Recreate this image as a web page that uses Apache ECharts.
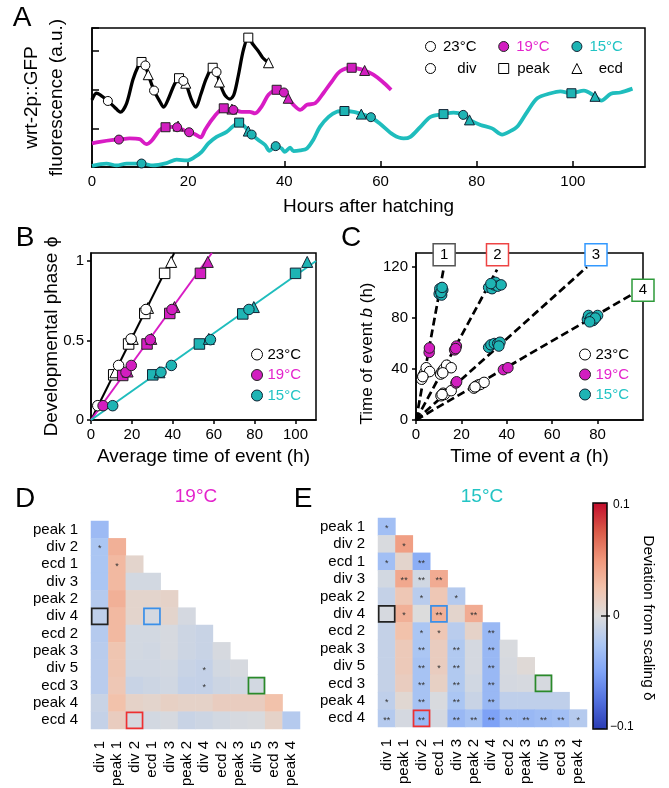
<!DOCTYPE html>
<html><head><meta charset="utf-8">
<script src="https://cdn.jsdelivr.net/npm/echarts/dist/echarts.min.js"></script>
<style>html,body{margin:0;padding:0;background:#fff}#c{width:669px;height:788px}</style>
</head><body><div id="c"></div>
<script>
// ---------------- DATA ----------------
// Panel A: fluorescence traces [hours after hatching, a.u.]
const trace23 = [[0,1.74],[0.9,1.91],[1.7,1.87],[3.3,1.71],[4.7,1.55],[5.9,1.42],[7.2,1.65],[8.5,2.26],[9.6,2.61],[10.3,2.72],[11.1,2.63],[11.7,2.39],[12.9,1.98],[14.1,1.70],[14.9,1.55],[15.8,1.74],[17.1,2.13],[18.1,2.30],[19.0,2.23],[19.5,2.17],[20.7,1.74],[21.6,1.55],[22.6,1.87],[23.8,2.30],[25.1,2.57],[25.9,2.46],[26.5,2.20],[27.6,1.87],[28.7,1.76],[29.5,1.87],[30.4,2.35],[31.5,3.04],[32.5,3.35],[33.5,3.17],[34.6,3.0],[35.5,2.83],[36.7,2.70]];
const trace19 = [[0,0.61],[1.6,0.65],[4.4,0.70],[5.6,0.71],[7.8,0.74],[9.9,0.72],[11.3,0.59],[12.4,0.68],[14.1,0.96],[15.3,1.03],[16.9,1.04],[17.7,1.03],[19.0,0.96],[20.2,0.90],[21.4,0.85],[22.6,0.77],[23.5,0.96],[24.9,1.22],[26.3,1.43],[27.4,1.52],[29.4,1.48],[31.1,1.43],[32.8,1.43],[33.9,1.39],[35.3,1.57],[36.7,1.87],[38.4,2.0],[39.9,1.93],[40.8,1.78],[41.9,1.61],[43.3,1.48],[44.7,1.61],[46.4,1.65],[48.1,1.91],[49.9,2.22],[51.6,2.48],[54.0,2.57],[56.7,2.50],[58.5,2.39],[60.3,2.22],[62.2,2.0]];
const trace15 = [[0,0.03],[3.0,0.09],[5.1,0.04],[7.2,0.09],[10.3,0.09],[12.7,0.04],[15.5,0.10],[17.6,0.19],[19.7,0.17],[21.4,0.26],[22.8,0.39],[24.2,0.61],[25.9,0.78],[28.0,0.91],[29.4,1.06],[30.6,1.15],[31.8,1.04],[32.5,0.93],[33.2,0.84],[34.6,0.70],[36.0,0.57],[36.9,0.42],[38.2,0.54],[39.4,0.48],[40.1,0.39],[41.2,0.50],[41.9,0.41],[43.3,0.43],[44.7,0.48],[46.0,0.70],[47.4,1.04],[49.2,1.30],[50.9,1.43],[52.5,1.45],[54.4,1.43],[56.0,1.37],[58.0,1.29],[59.9,1.12],[62.7,0.83],[64.8,0.74],[66.2,0.78],[68.3,1.04],[70.4,1.30],[73.1,1.37],[75.2,1.41],[77.2,1.35],[78.5,1.22],[80.8,1.09],[83.2,1.0],[85.3,0.84],[86.7,0.91],[88.4,1.04],[90.5,1.43],[92.6,1.78],[95.4,1.91],[97.4,1.96],[99.7,1.91],[102.3,1.98],[104.6,1.83],[105.9,1.72],[107.9,1.90],[109.9,1.93],[112.4,2.03]];
// Panel A event markers
const A23div = [[3.3,1.71],[11.1,2.63],[12.9,1.98],[19.0,2.23],[25.9,2.46]];
const A23peak = [[10.3,2.72],[18.1,2.30],[25.1,2.57],[32.5,3.35]];
const A23ecd = [[11.7,2.39],[19.5,2.17],[26.5,2.20],[36.7,2.70]];
const A19div = [[5.6,0.71],[17.7,1.03],[20.2,0.90],[29.4,1.48],[39.9,1.93]];
const A19peak = [[15.3,1.03],[27.4,1.52],[38.4,2.0],[54.0,2.57]];
const A19ecd = [[17.9,1.06],[29.1,1.50],[40.8,1.78],[56.7,2.50]];
const A15div = [[10.3,0.09],[33.2,0.84],[38.2,0.54],[58.0,1.29],[77.2,1.35]];
const A15peak = [[30.6,1.15],[52.5,1.45],[73.1,1.37],[99.7,1.91]];
const A15ecd = [[32.5,0.93],[56.0,1.37],[78.5,1.22],[104.6,1.83]];
// Panel B: [average time of event (h), developmental phase]
const B23div = [[3.3,0.09],[13.5,0.343],[19.6,0.51],[26.9,0.695]];
const B23peak = [[11.1,0.284],[18.4,0.478],[26.3,0.67],[36.0,0.922]];
const B23ecd = [[11.9,0.30],[20.4,0.51],[27.9,0.705],[39.2,0.994]];
const B19div = [[5.9,0.09],[17.1,0.30],[19.7,0.343],[29.0,0.505],[39.6,0.695]];
const B19peak = [[15.5,0.28],[27.4,0.478],[38.5,0.67],[53.5,0.922]];
const B19ecd = [[17.9,0.305],[29.5,0.51],[40.8,0.71],[57.1,0.994]];
const B15div = [[10.6,0.09],[34.2,0.30],[39.3,0.343],[58.4,0.505],[77.2,0.695]];
const B15peak = [[30.2,0.284],[53.0,0.478],[74.2,0.667],[100.0,0.922]];
const B15ecd = [[33.5,0.30],[57.6,0.51],[79.6,0.71],[105.7,0.994]];
const fit23 = [[0,0],[40.7,1.05]];
const fit19 = [[0,0],[59.1,1.05]];
const fit15 = [[0,0],[110,1.0]];
// Panel C: [time of event a, time of event b]
const C23 = [[2.5,32],[3.2,35],[3.8,37],[4.5,41],[6.0,38],[3.0,34],[10.8,36],[11.5,38],[12.3,40],[13.5,43],[15.5,41],[11.8,37],[11.0,19],[12.0,21],[12.5,20],[15.5,23],[11.5,20],[25.5,25],[26.5,26.5],[27.5,27.5],[28.5,28],[30.0,29.5],[26,26]];
const C19 = [[5.8,53],[5.9,56.5],[17.0,55],[17.8,58],[17.5,56],[17.6,29],[17.9,30],[38.5,39.5],[40.5,41]];
const C15 = [[10.2,99],[10.8,101],[11.3,98],[11.8,102],[10.5,103],[11.0,100],[11.5,104],[32.0,104],[33.5,103],[34.5,106],[35.0,108],[36.0,105],[37.5,106],[33.0,107],[32.0,57],[33.0,59],[34.5,60],[36.0,60],[37.0,61],[36.5,58],[75.5,79],[76.0,82],[77.0,80],[78.0,78],[80.0,82],[79.0,80],[76.5,77]];
const guide1 = [[0,0],[12.1,118]];
const guide2 = [[0,0],[35.7,118]];
const guide3 = [[0,0],[75.3,120]];
const guide4 = [[0,0],[95.1,98.4]];
const guideLabels = ['1','2','3','4'];
const guideLabelAt = [[12.4,129.7],[35.9,129.7],[79.3,129.7],[100,101.8]];
// Panels D/E: deviation from scaling
const colCats = ['div 1','peak 1','div 2','ecd 1','div 3','peak 2','div 4','ecd 2','peak 3','div 5','ecd 3','peak 4'];
const rowCats = ['peak 1','div 2','ecd 1','div 3','peak 2','div 4','ecd 2','peak 3','div 5','ecd 3','peak 4','ecd 4'];
const devD = [
 [-0.033],
 [-0.025,0.035],
 [-0.025,0.03,0.008],
 [-0.025,0.03,-0.005,-0.005],
 [-0.02,0.035,0.008,0.008,0.01],
 [-0.015,0.03,0.008,-0.004,0.008,-0.004],
 [-0.02,0.03,-0.005,-0.005,-0.003,-0.008,-0.01],
 [-0.018,0.022,-0.005,-0.006,-0.003,-0.008,-0.01,-0.003],
 [-0.018,0.022,-0.006,-0.006,-0.005,-0.01,-0.012,-0.005,-0.003],
 [-0.018,0.02,-0.01,-0.008,-0.006,-0.012,-0.012,-0.008,-0.006,-0.005],
 [-0.01,0.025,0.01,0.008,0.012,0.01,0.01,0.015,0.015,0.015,0.025],
 [-0.012,0.015,-0.003,-0.005,-0.003,-0.01,-0.008,-0.005,-0.003,-0.002,0.01,-0.02]
];
const sigD = [
 [''],
 ['*',''],
 ['','*',''],
 ['','','',''],
 ['','','','',''],
 ['','','','','',''],
 ['','','','','','',''],
 ['','','','','','','',''],
 ['','','','','','','*','',''],
 ['','','','','','','*','','',''],
 ['','','','','','','','','','',''],
 ['','','','','','','','','','','','']
];
const devE = [
 [-0.03],
 [-0.002,0.045],
 [-0.03,0.008,-0.042],
 [-0.005,0.04,-0.006,0.038],
 [-0.012,0.02,-0.018,0.02,-0.02],
 [-0.003,0.035,0.0,0.035,0.008,0.038],
 [-0.012,0.025,-0.025,0.02,-0.018,0.01,-0.035],
 [-0.012,0.018,-0.025,0.015,-0.022,-0.004,-0.035,-0.002],
 [-0.012,0.018,-0.027,0.015,-0.022,-0.004,-0.035,-0.003,0.003],
 [-0.012,0.015,-0.027,0.012,-0.022,-0.006,-0.035,-0.004,-0.003,-0.003],
 [-0.015,0.005,-0.027,-0.002,-0.025,-0.01,-0.035,-0.015,-0.015,-0.015,-0.015],
 [-0.02,-0.004,-0.035,-0.004,-0.035,-0.028,-0.05,-0.035,-0.035,-0.032,-0.03,-0.02]
];
const sigE = [
 ['*'],
 ['','*'],
 ['*','','**'],
 ['','**','**','**'],
 ['','','*','','*'],
 ['','*','','**','','**'],
 ['','','*','*','','','**'],
 ['','','**','','**','','**',''],
 ['','','**','*','**','','**','',''],
 ['','','**','','**','','**','','',''],
 ['*','','**','','**','','**','','','',''],
 ['**','','**','','**','**','**','**','**','**','**','*']
];
const markedCells = [[0,5],[3,5],[9,9],[2,11]]; // [col,row]

// ---------------- STYLE ----------------
const FONT = 'Liberation Sans, Arial, Helvetica, sans-serif';
const BLK = '#000', MAG = '#d81cc4', CYA = '#1fbdbd';
const MAG_T = '#e424cc', CYA_T = '#22c4c4';
const MAG_F = '#d21ec0', CYA_F = '#1eb4b4';
const markedColors = ['#222222','#3a8fe8','#2a8a2a','#ee3030'];
const guideColors = ['#555555','#ee4444','#3399ff','#2e9a3a'];

const txt = s => ({fontFamily: FONT, fontSize: s, color: '#000'});
const axLine = {show: true, lineStyle: {color: '#000', width: 1.5}};
const tickIn = {show: true, inside: true, length: 6, lineStyle: {color: '#000', width: 1.5}};
const tickOut = {show: true, inside: false, length: 4, lineStyle: {color: '#000', width: 1.5}};
const frame = {show: true, borderColor: '#000', borderWidth: 1.5, backgroundColor: 'transparent', containLabel: false, outerBoundsMode: 'none'};

const hm = vals => { const o = []; vals.forEach((r, i) => r.forEach((v, j) => o.push([j, i, v]))); return o; };

const series = [];
function line(name, data, xi, color, width, extra) {
  series.push(Object.assign({name, type: 'line', xAxisIndex: xi, yAxisIndex: xi, data, showSymbol: false,
    symbol: 'none', lineStyle: {color, width}, itemStyle: {color}, silent: true, z: 2}, extra || {}));
}
function pts(name, data, xi, symbol, size, fill, border) {
  series.push({name, type: 'scatter', xAxisIndex: xi, yAxisIndex: xi, data, symbol, symbolSize: size,
    itemStyle: {color: fill, borderColor: border, borderWidth: 1, opacity: 1}, silent: true, z: 5, clip: false});
}
// Panel A
line('15°C', trace15, 0, CYA, 3.8, {smooth: 0.3});
line('19°C', trace19, 0, MAG, 3.8, {smooth: 0.3});
line('23°C', trace23, 0, BLK, 3.3, {smooth: 0.3});
pts('ecd', A23ecd, 0, 'triangle', 10, '#fff', '#000');
pts('peak', A23peak, 0, 'rect', 9, '#fff', '#000');
pts('div', A23div, 0, 'circle', 9, '#fff', '#000');
pts('ecd', A19ecd, 0, 'triangle', 10, MAG_F, '#222');
pts('peak', A19peak, 0, 'rect', 9, MAG_F, '#222');
pts('div', A19div, 0, 'circle', 9, MAG_F, '#222');
pts('ecd', A15ecd, 0, 'triangle', 10, CYA_F, '#123');
pts('peak', A15peak, 0, 'rect', 9, CYA_F, '#123');
pts('div', A15div, 0, 'circle', 9, CYA_F, '#123');
// Panel B
line('23°C', fit23, 1, BLK, 2);
line('19°C', fit19, 1, MAG, 2);
line('15°C', fit15, 1, CYA, 2);
[[B23div,B23peak,B23ecd,'#fff','#000','23°C'],[B19div,B19peak,B19ecd,MAG_F,'#222','19°C'],[B15div,B15peak,B15ecd,CYA_F,'#123','15°C']].forEach(g => {
  pts(g[5], g[1], 1, 'rect', 10.5, g[3], g[4]);
  pts(g[5], g[2], 1, 'triangle', 11, g[3], g[4]);
  pts(g[5], g[0], 1, 'circle', 10.5, g[3], g[4]);
});
// Panel C
[guide1, guide2, guide3, guide4].forEach(g => line('guide', g, 2, '#000', 2.7, {lineStyle: {color: '#000', width: 2.7, type: [8, 4]}}));
pts('23°C', C23, 2, 'circle', 10.5, '#fff', '#000');
pts('19°C', C19, 2, 'circle', 10.5, MAG_F, '#222');
pts('15°C', C15, 2, 'circle', 10.5, CYA_F, '#123');
series.push({type: 'scatter', xAxisIndex: 2, yAxisIndex: 2, clip: false, silent: true, z: 8, symbol: 'rect', symbolSize: 22,
  data: guideLabelAt.map((p, i) => ({value: p, itemStyle: {borderColor: guideColors[i]}, label: {formatter: guideLabels[i]}})),
  itemStyle: {color: '#fff', borderWidth: 1.5, opacity: 1},
  label: {show: true, position: 'inside', fontFamily: FONT, fontSize: 15, color: '#000'}});
// Panels D / E
const iD = series.length;
series.push({type: 'heatmap', xAxisIndex: 3, yAxisIndex: 3, data: hm(devD), silent: true, z: 2, progressive: 0,
  label: {show: true, formatter: p => sigD[p.data[1]][p.data[0]], fontSize: 9, color: '#333', offset: [0, 2], fontFamily: FONT},
  emphasis: {disabled: true}});
const iE = series.length;
series.push({type: 'heatmap', xAxisIndex: 4, yAxisIndex: 4, data: hm(devE), silent: true, z: 2, progressive: 0,
  label: {show: true, formatter: p => sigE[p.data[1]][p.data[0]], fontSize: 9, color: '#333', offset: [0, 2], fontFamily: FONT},
  emphasis: {disabled: true}});
[3, 4].forEach(ai => series.push({type: 'scatter', xAxisIndex: ai, yAxisIndex: ai, silent: true, z: 6, symbol: 'rect', symbolSize: 16,
  data: markedCells.map((c, i) => ({value: c, itemStyle: {borderColor: markedColors[i]}})),
  itemStyle: {color: 'rgba(0,0,0,0)', borderWidth: 1.7, opacity: 1}}));

const valAxis = (gi, min, max, interval, tick, name, gap, labelMargin, extra) => Object.assign({
  gridIndex: gi, type: 'value', min, max, interval, axisLine: axLine, axisTick: tick,
  axisLabel: Object.assign(txt(15), {margin: labelMargin, showMaxLabel: false}), splitLine: {show: false},
  name, nameLocation: 'middle', nameGap: gap, nameTextStyle: txt(19), nameMoveOverlap: false
}, extra || {});
const catAxis = (gi, data, isX) => ({
  gridIndex: gi, type: 'category', data, inverse: !isX, axisLine: {show: false}, axisTick: {show: false}, splitLine: {show: false},
  axisLabel: Object.assign(txt(15), {interval: 0, margin: isX ? 12 : 13, rotate: isX ? 90 : 0, hideOverlap: false})
});

const legendRich = w => ({rich: {t: {width: w, align: 'right', fontFamily: FONT, fontSize: 15}}});
const tempLegendData = () => [
  {name: '23°C', icon: 'circle', itemStyle: {color: '#fff', borderColor: '#000', borderWidth: 1}, textStyle: {color: '#000'}},
  {name: '19°C', icon: 'circle', itemStyle: {color: MAG_F, borderColor: '#222', borderWidth: 1}, textStyle: {color: MAG_T}},
  {name: '15°C', icon: 'circle', itemStyle: {color: CYA_F, borderColor: '#123', borderWidth: 1}, textStyle: {color: CYA_T}}];
const option = {
  animation: false,
  backgroundColor: '#fff',
  textStyle: {fontFamily: FONT},
  grid: [
    Object.assign({left: 92, top: 28, width: 553, height: 139}, frame),
    Object.assign({left: 91, top: 253, width: 225, height: 167}, frame),
    Object.assign({left: 416, top: 253, width: 227, height: 167}, frame),
    {left: 91, top: 521, width: 209, height: 208, containLabel: false, outerBoundsMode: 'none'},
    {left: 378, top: 518, width: 209, height: 209, containLabel: false, outerBoundsMode: 'none'}
  ],
  xAxis: [
    valAxis(0, 0, 115, 20, tickIn, 'Hours after hatching', 30, 7),
    valAxis(1, 0, 110, 20, tickOut, 'Average time of event (h)', 27, 7),
    valAxis(2, 0, 100, 20, tickOut, 'Time of event {i|a} (h)', 27, 7,
      {nameTextStyle: Object.assign(txt(19), {rich: {i: {fontStyle: 'italic', fontFamily: FONT, fontSize: 19}}})}),
    catAxis(3, colCats, true),
    catAxis(4, colCats, true)
  ],
  yAxis: [
    valAxis(0, 0, 3.6, 1, {show: true, inside: true, length: 7, lineStyle: {color: '#000', width: 1.5}},
      'wrt-2p::GFP\nfluorescence (a.u.)', 23, 7, {axisLabel: {show: false}, nameTextStyle: Object.assign(txt(19), {lineHeight: 25})}),
    valAxis(1, 0, 1.05, 0.5, tickOut, 'Developmental phase ϕ', 30, 7),
    valAxis(2, 0, 131, 40, tickOut, 'Time of event {i|b} (h){s| }', 40, 8,
      {nameTextStyle: Object.assign(txt(17), {rich: {i: {fontStyle: 'italic', fontFamily: FONT, fontSize: 17}, s: {width: 34, fontSize: 17}}})}),
    catAxis(3, rowCats, false),
    catAxis(4, rowCats, false)
  ],
  legend: [
    {left: 425, top: 39, padding: 0, orient: 'horizontal', itemWidth: 10, itemHeight: 10, itemGap: 21.7, selectedMode: false,
     formatter: n => '{t|' + n + '}', textStyle: legendRich(36), data: tempLegendData()},
    {left: 425, top: 61, padding: 0, orient: 'horizontal', itemWidth: 10, itemHeight: 10, itemGap: 21.7, selectedMode: false,
     formatter: n => '{t|' + n + '}', textStyle: legendRich(36),
     data: [
      {name: 'div', icon: 'circle', itemStyle: {color: '#fff', borderColor: '#000', borderWidth: 1}, textStyle: {color: '#000'}},
      {name: 'peak', icon: 'rect', itemStyle: {color: '#fff', borderColor: '#000', borderWidth: 1}, textStyle: {color: '#000'}},
      {name: 'ecd', icon: 'triangle', itemStyle: {color: '#fff', borderColor: '#000', borderWidth: 1}, textStyle: {color: '#000'}}]},
    {left: 251, top: 347, padding: 0, orient: 'vertical', itemWidth: 11, itemHeight: 11, itemGap: 5.5, selectedMode: false,
     textStyle: txt(15), data: tempLegendData()},
    {left: 579, top: 347, padding: 0, orient: 'vertical', itemWidth: 11, itemHeight: 11, itemGap: 5, selectedMode: false,
     textStyle: txt(15), data: tempLegendData()}
  ],
  visualMap: {
    type: 'continuous', min: -0.1, max: 0.1, dimension: 2, seriesIndex: [iD, iE], calculable: false, hoverLink: false,
    orient: 'vertical', left: 593, top: 503, itemWidth: 14, itemHeight: 226, padding: 0, text: null, show: true,
    inRange: {color: ['#2a3cb4','#5270de','#7ea2f6','#abc6f3','#dcdcdc','#f2c2ab','#f0967a','#da5a48','#c20d2c']}
  },
  graphic: [
    {type: 'text', x: 22, y: 18, style: {text: 'A', fontSize: 28, fontFamily: FONT, fill: '#000', align: 'center', verticalAlign: 'middle'}},
    {type: 'text', x: 25, y: 238, style: {text: 'B', fontSize: 28, fontFamily: FONT, fill: '#000', align: 'center', verticalAlign: 'middle'}},
    {type: 'text', x: 351, y: 238, style: {text: 'C', fontSize: 28, fontFamily: FONT, fill: '#000', align: 'center', verticalAlign: 'middle'}},
    {type: 'text', x: 25, y: 499, style: {text: 'D', fontSize: 28, fontFamily: FONT, fill: '#000', align: 'center', verticalAlign: 'middle'}},
    {type: 'text', x: 303, y: 499, style: {text: 'E', fontSize: 28, fontFamily: FONT, fill: '#000', align: 'center', verticalAlign: 'middle'}},
    {type: 'text', x: 196, y: 497, style: {text: '19°C', fontSize: 19, fontFamily: FONT, fill: MAG_T, align: 'center', verticalAlign: 'middle'}},
    {type: 'text', x: 482, y: 497, style: {text: '15°C', fontSize: 19, fontFamily: FONT, fill: CYA_T, align: 'center', verticalAlign: 'middle'}},
    {type: 'rect', z: 100, shape: {x: 593, y: 503, width: 14, height: 226}, style: {fill: 'none', stroke: '#000', lineWidth: 1.5}},
    {type: 'line', z: 100, shape: {x1: 601, y1: 616, x2: 610, y2: 616}, style: {stroke: '#000', lineWidth: 1.3}},
    {type: 'text', x: 613, y: 505, style: {text: '0.1', fontSize: 12, fontFamily: FONT, fill: '#000', align: 'left', verticalAlign: 'middle'}},
    {type: 'text', x: 613, y: 616, style: {text: '0', fontSize: 12, fontFamily: FONT, fill: '#000', align: 'left', verticalAlign: 'middle'}},
    {type: 'text', x: 610, y: 727, style: {text: '−0.1', fontSize: 12, fontFamily: FONT, fill: '#000', align: 'left', verticalAlign: 'middle'}},
    {type: 'text', x: 648, y: 618, rotation: -Math.PI / 2, style: {text: 'Deviation from scaling δ', fontSize: 15.5, fontFamily: FONT, fill: '#000', align: 'center', verticalAlign: 'middle'}}
  ],
  series
};
const chart = echarts.init(document.getElementById('c'), null, {renderer: 'canvas'});
chart.setOption(option);
</script>
</body></html>
